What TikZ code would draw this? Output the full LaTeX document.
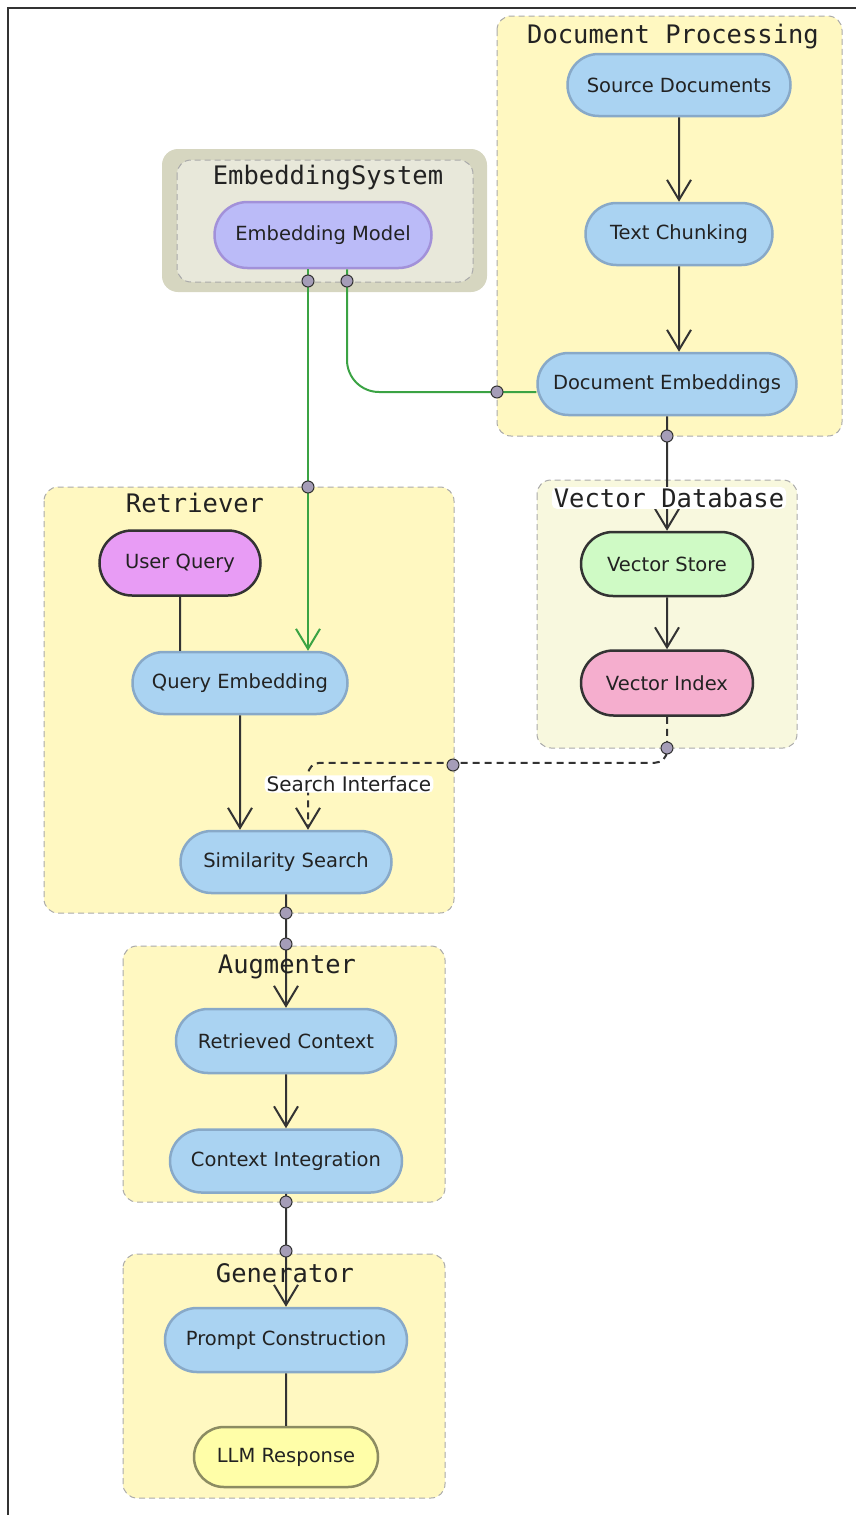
\documentclass[tikz,border=0pt]{standalone}
\usepackage{fontspec}
\setmainfont{DejaVu Sans}
\newfontfamily\monofont{DejaVu Sans Mono}
\usetikzlibrary{arrows.meta,shapes.misc}

\definecolor{ink}{HTML}{333333}
\definecolor{textink}{HTML}{222222}
\definecolor{clusterfill}{HTML}{FFF8C1}
\definecolor{clusterline}{HTML}{AAAAAA}
\definecolor{vdbfill}{HTML}{F8F8DE}
\definecolor{embout}{HTML}{D6D6C0}
\definecolor{embin}{HTML}{E8E8DA}
\definecolor{boxfill}{HTML}{AAD3F2}
\definecolor{boxline}{HTML}{88A9C8}
\definecolor{modelfill}{HTML}{BBBBF8}
\definecolor{modelline}{HTML}{A291D9}
\definecolor{queryfill}{HTML}{E89CF5}
\definecolor{storefill}{HTML}{CFFAC5}
\definecolor{indexfill}{HTML}{F5AECE}
\definecolor{llmfill}{HTML}{FFFEA8}
\definecolor{llmline}{HTML}{8C8C62}
\definecolor{linkgreen}{HTML}{3BA344}
\definecolor{jointfill}{HTML}{A59DB8}

\newcommand{\nodefont}{\fontsize{19.5}{23}\selectfont}
\newcommand{\titlefont}{\monofont\fontsize{25.5}{28}\selectfont}

\begin{document}
\begin{tikzpicture}[x=1pt, y=-1pt,
  box/.style={rounded rectangle, draw=boxline, fill=boxfill, line width=2.5pt,
    minimum height=62pt, inner xsep=0pt, font=\nodefont, text=textink},
  darkbox/.style={box, draw=ink},
  cluster/.style={draw=clusterline, dash pattern=on 6pt off 4pt, line width=1pt,
    rounded corners=14pt, fill=clusterfill},
  title/.style={font=\titlefont, text=textink, inner sep=0pt},
  halo/.style={fill=white, rounded corners=5pt, inner xsep=2pt, inner ysep=1pt},
  link/.style={draw=ink, line width=2pt, -{Straight Barb[length=20pt,width=24pt]}},
  plain/.style={draw=ink, line width=2pt},
  greenlink/.style={draw=linkgreen, line width=2pt},
  joint/.style={circle, draw=ink, fill=jointfill, line width=1pt, minimum size=12pt, inner sep=0pt}
]
\useasboundingbox (0,0) rectangle (856,1515);
\draw[ink, line width=1.5pt] (8,1515) -- (8,8) -- (856,8);

% subgraphs
\fill[embout, rounded corners=16pt] (162,149) rectangle (487,292);
\draw[cluster, fill=embin] (177,160) rectangle (473,282);
\draw[cluster] (497,16) rectangle (842,436);
\draw[cluster] (44,487) rectangle (454,913);
\draw[cluster, fill=vdbfill] (537,480) rectangle (797,748);
\draw[cluster] (123,946) rectangle (445,1202);
\draw[cluster] (123,1254) rectangle (445,1498);

% nodes
\node[box, minimum width=223pt] (src) at (679,85) {Source Documents};
\node[box, minimum width=187pt] (chunk) at (679,234) {Text Chunking};
\node[box, minimum width=259pt] (demb) at (667,384) {Document Embeddings};
\node[box, draw=modelline, fill=modelfill, minimum width=217pt, minimum height=66pt] (model) at (323,235) {Embedding Model};
\node[darkbox, fill=queryfill, minimum width=161pt, minimum height=65pt] (query) at (180,563) {User Query};
\node[box, minimum width=215pt] (qemb) at (240,683) {Query Embedding};
\node[box, minimum width=211pt] (sim) at (286,862) {Similarity Search};
\node[darkbox, fill=storefill, minimum width=172pt, minimum height=64pt] (store) at (667,564) {Vector Store};
\node[darkbox, fill=indexfill, minimum width=172pt, minimum height=65pt] (index) at (667,683) {Vector Index};
\node[box, minimum width=220pt, minimum height=64pt] (ctx) at (286,1041) {Retrieved Context};
\node[box, minimum width=232pt, minimum height=63pt] (integ) at (286,1161) {Context Integration};
\node[box, minimum width=242pt, minimum height=64pt] (prompt) at (286,1340) {Prompt Construction};
\node[box, draw=llmline, fill=llmfill, minimum width=184pt, minimum height=60pt] (llm) at (286,1457) {LLM Response};

% connectors
\draw[link] (src) -- (chunk);
\draw[link] (chunk) -- (chunk |- demb.north);
\draw[link] (demb) -- (store);
\draw[link] (store) -- (index);
\draw[plain] (query) -- (query |- qemb.north);
\draw[link] (qemb) -- (qemb |- sim.north);
\draw[link] (sim) -- (ctx);
\draw[link] (ctx) -- (integ);
\draw[link] (integ) -- (prompt);
\draw[plain] (prompt) -- (llm);
\draw[greenlink, -{Straight Barb[length=20pt,width=24pt]}] ([xshift=-15pt]model.south) -- ([xshift=-15pt]model.south |- qemb.north);
\draw[greenlink, rounded corners=32pt] ([xshift=24pt]model.south) |- ([yshift=-8pt]demb.west);
\draw[link, dash pattern=on 7pt off 5pt, rounded corners=12pt] (index.south) |- ([xshift=22pt,yshift=67pt]sim.north) -- ([xshift=22pt]sim.north);
\node[halo, font=\fontsize{20}{23}\selectfont, text=textink] (search) at (349,784) {Search Interface};

% connector joints
\foreach \px/\py [count=\i] in {308/281, 347/281, 308/487, 497/392, 667/436, 667/748,
    453/765, 286/913, 286/944, 286/1202, 286/1251}
  \node[joint] (j\i) at (\px,\py) {};

% subgraph titles
\node[title] (tdoc) at (673,37) {Document Processing};
\node[title] (temb) at (328,178) {EmbeddingSystem};
\node[title] (tret) at (195,503) {Retriever};
\node[title, halo] (tvdb) at (669,498) {Vector Database};
\node[title] (taug) at (287,967) {Augmenter};
\node[title] (tgen) at (285,1273) {Generator};
\end{tikzpicture}
\end{document}
